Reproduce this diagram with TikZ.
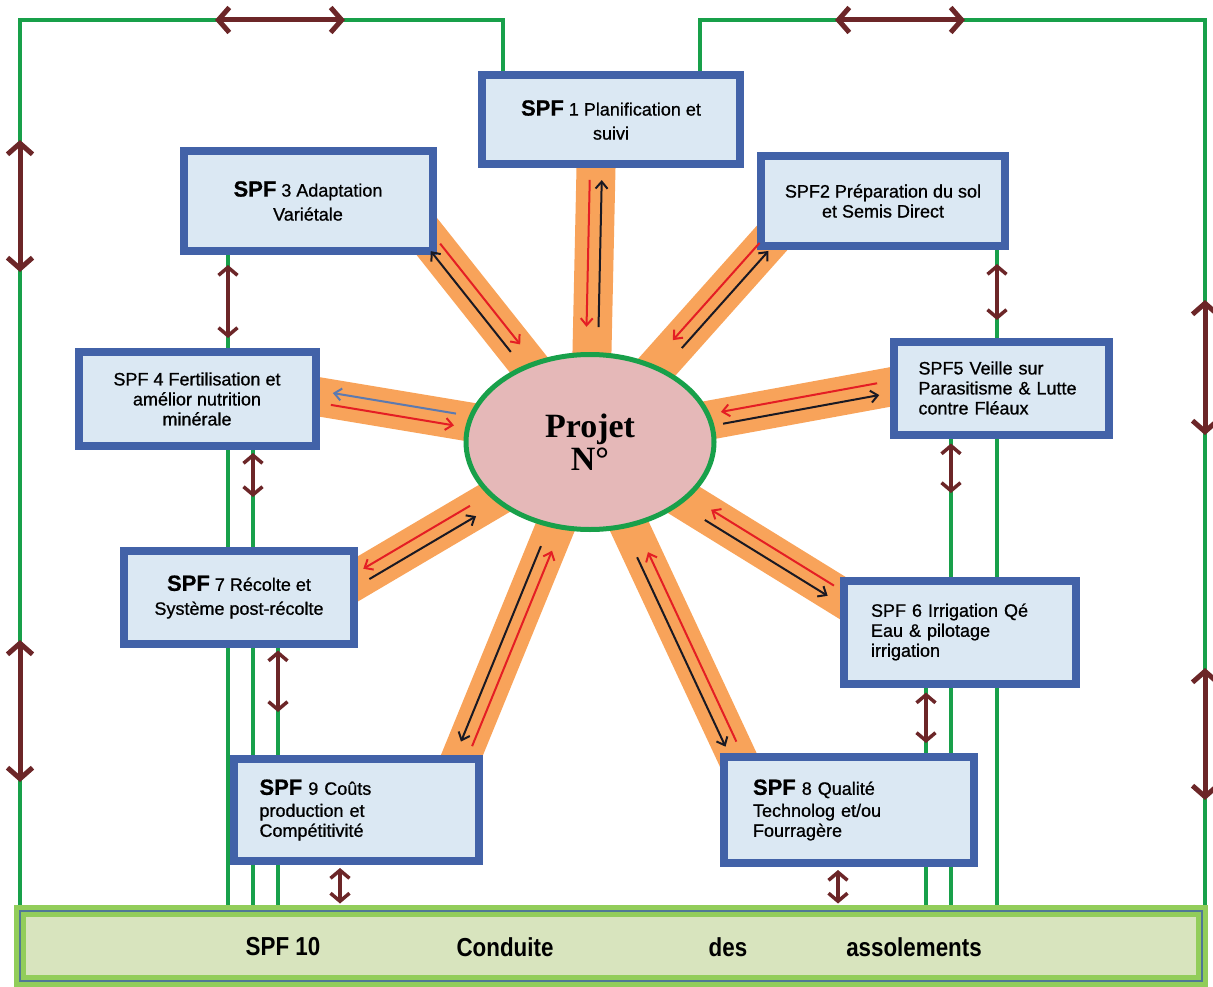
\documentclass[tikz,border=0pt]{standalone}
\usepackage{fontspec}
\setmainfont{Liberation Sans}
\newfontfamily\boxfont[FakeBold=0.8]{Liberation Sans}
\newfontfamily\projfont{Liberation Serif}
\newfontfamily\barfont[FakeStretch=0.86]{Liberation Sans}
\usetikzlibrary{arrows.meta,calc,shapes.geometric}

\definecolor{spfblue}{RGB}{66,98,168}
\definecolor{spffill}{RGB}{219,232,243}
\definecolor{railgreen}{RGB}{24,160,74}
\definecolor{bandorange}{RGB}{248,163,90}
\definecolor{projpink}{RGB}{229,184,184}
\definecolor{linkbrown}{RGB}{108,38,40}
\definecolor{arrred}{RGB}{228,30,36}
\definecolor{arrdark}{RGB}{25,25,35}
\definecolor{arrgrey}{RGB}{92,122,176}
\definecolor{bargreen}{RGB}{146,205,90}
\definecolor{barblue}{RGB}{80,120,150}
\definecolor{barfill}{RGB}{216,228,190}

\newcommand{\bigspf}{{\fontsize{22}{24}\selectfont\bfseries SPF}}

\pgfdeclarelayer{background}
\pgfsetlayers{background,main}

\begin{document}
\begin{tikzpicture}[x=1pt,y=-1pt,
    spf/.style={draw=spfblue, line width=8pt, fill=spffill, inner sep=2pt,
      align=center, font=\boxfont\fontsize{18}{20}\selectfont},
    projet/.style={ellipse, draw=railgreen, line width=5pt, fill=projpink,
      minimum width=248pt, minimum height=175pt, align=center, inner sep=0pt,
      font=\projfont\bfseries\fontsize{34}{33}\selectfont},
    barbox/.style={draw=bargreen, double=barblue, double distance=2pt,
      line width=5pt, fill=barfill, minimum width=1182pt, minimum height=70pt,
      inner sep=0pt},
    barword/.style={font=\barfont\bfseries\fontsize{26}{28}\selectfont},
    rail/.style={draw=railgreen, line width=4.5pt},
    band/.style={draw=bandorange, line width=39pt},
    flow/.style={line width=2pt, -{Straight Barb[length=7pt,width=12pt]}},
    link/.style={draw=linkbrown, line width=3.5pt,
      {Straight Barb[length=8pt,width=19pt]}-{Straight Barb[length=8pt,width=19pt]}},
    biglink/.style={draw=linkbrown, line width=5pt,
      {Straight Barb[length=11pt,width=25pt]}-{Straight Barb[length=11pt,width=25pt]}}]

  \useasboundingbox (0,0) rectangle (1213,987);

  % SPF 10 bar
  \node[barbox] (bar) at (611,946) {};
  \node[barword] (w1) at (283,947) {SPF 10};
  \node[barword] (w2) at (505,947) {Conduite};
  \node[barword] (w3) at (728,947) {des};
  \node[barword] (w4) at (914,947) {assolements};

  % sub-project boxes
  \node[spf, minimum width=258pt, minimum height=89pt] (s1) at (611,120)
    {\bigspf\ 1 Planification et\\[4pt]suivi};
  \node[spf, minimum width=244pt, minimum height=90pt] (s2) at (883,201)
    {SPF2 Préparation du sol\\et Semis Direct};
  \node[spf, minimum width=249pt, minimum height=100pt] (s3) at (308,201)
    {\bigspf\ 3 Adaptation\\[4pt]Variétale};
  \node[spf, minimum width=237pt, minimum height=94pt] (s4) at (197,399)
    {SPF 4 Fertilisation et\\amélior nutrition\\minérale};
  \node[spf, align=left, text width=165pt, inner xsep=25pt, minimum height=93pt] (s5) at (1001,388)
    {SPF5 Veille sur\\Parasitisme \& Lutte\\contre Fléaux};
  \node[spf, align=left, text width=178pt, inner xsep=27pt, minimum height=103pt] (s6) at (960,632)
    {SPF 6 Irrigation Qé\\Eau \& pilotage\\irrigation};
  \node[spf, minimum width=230pt, minimum height=93pt] (s7) at (239,597)
    {\bigspf\ 7 Récolte et\\[4pt]Système post-récolte};
  \node[spf, align=left, text width=192pt, inner xsep=29pt, minimum height=106pt] (s8) at (849,810)
    {\bigspf\ 8 Qualité\\[2pt]Technolog et/ou\\Fourragère};
  \node[spf, align=left, text width=193pt, inner xsep=26pt, minimum height=102pt] (s9) at (356,810)
    {\bigspf\ 9 Coûts\\[2pt]production et\\Compétitivité};

  % central project
  \node[projet] (pj) at (590,442) {Projet\\N°};

  % ray ends at the boxes
  \coordinate (o1) at (596,168);
  \coordinate (o2) at (772,238);
  \coordinate (o3) at (428,238);
  \coordinate (o4) at (320,397);
  \coordinate (o5) at (890,387);
  \coordinate (o6) at (841,597);
  \coordinate (o7) at (356,580);
  \coordinate (o8) at (736,755);
  \coordinate (o9) at (462,755);

  % rail columns and free ends
  \coordinate (xa) at (228,0);
  \coordinate (xb) at (253,0);
  \coordinate (xc) at (278,0);
  \coordinate (xd) at (340,0);
  \coordinate (xe) at (926,0);
  \coordinate (xf) at (951,0);
  \coordinate (xg) at (997,0);
  \coordinate (xh) at (838,0);
  \coordinate (xl) at (20,0);
  \coordinate (xr) at (1205,0);
  \coordinate (xp) at (503,0);
  \coordinate (xq) at (700,0);
  \coordinate (yt) at (0,20);
  \coordinate (kb) at (253,497);
  \coordinate (kc) at (278,712);
  \coordinate (ke) at (997,320);
  \coordinate (kf) at (951,493);
  \coordinate (kg) at (926,743);

  \begin{pgfonlayer}{background}
    % green rails
    \draw[rail] (bar.north -| xl) |- (yt -| xp) -- (s1.north -| xp);
    \draw[rail] (s1.north -| xq) -- (yt -| xq) -| (bar.north -| xr);
    \draw[rail] (s3.south -| xa) -- (bar.north -| xa);
    \draw[rail] (s4.south -| xb) -- (bar.north -| xb);
    \draw[rail] (s7.south -| xc) -- (bar.north -| xc);
    \draw[rail] (s2.south -| xg) -- (bar.north -| xg);
    \draw[rail] (s5.south -| xf) -- (bar.north -| xf);
    \draw[rail] (s6.south -| xe) -- (bar.north -| xe);
    % orange rays
    \foreach \n in {1,...,9}
      \draw[band] (pj.center) -- ($(pj.center)!1.2!(o\n)$);
  \end{pgfonlayer}

  % two-way flows along the rays
  \foreach \n/\cin/\cout/\s/\ns/\frc in {1/arrred/arrdark/-90/90/0.58,
      2/arrred/arrdark/-90/90/0.52, 3/arrred/arrdark/90/-90/0.54,
      4/arrred/arrgrey/-90/90/0.50, 5/arrred/arrdark/-90/90/0.56,
      6/arrred/arrdark/-90/90/0.53, 7/arrdark/arrred/-90/90/0.50,
      8/arrred/arrdark/-90/90/0.64, 9/arrred/arrdark/-90/90/0.66}{
    \coordinate (i\n) at ($(o\n)!\frc!(pj.center)$);
    \draw[flow, draw=\cin, shorten <=12pt] ($(o\n)!6pt!\s:(i\n)$) -- ($(i\n)!6pt!\ns:(o\n)$);
    \draw[flow, draw=\cout, shorten >=12pt] ($(i\n)!6pt!\s:(o\n)$) -- ($(o\n)!6pt!\ns:(i\n)$);
  }

  % brown links between boxes
  \draw[link, shorten <=10pt, shorten >=10pt] (s3.south -| xa) -- (s4.north -| xa);
  \draw[link, shorten <=3pt] (s4.south -| kb) -- (kb);
  \draw[link, shorten <=3pt] (s7.south -| kc) -- (kc);
  \draw[link, shorten <=3pt, shorten >=5pt] (s9.south -| xd) -- (bar.north -| xd);
  \draw[link, shorten <=14pt] (s2.south -| ke) -- (ke);
  \draw[link, shorten <=5pt] (s5.south -| kf) -- (kf);
  \draw[link, shorten <=5pt] (s6.south -| kg) -- (kg);
  \draw[link, shorten <=3pt, shorten >=5pt] (s8.south -| xh) -- (bar.north -| xh);

  % brown links on the outer frame
  \coordinate (ua) at (215,20);
  \coordinate (ub) at (345,20);
  \coordinate (uc) at (835,20);
  \coordinate (ud) at (965,20);
  \coordinate (la) at (20,140);
  \coordinate (lb) at (20,272);
  \coordinate (lc) at (20,640);
  \coordinate (ld) at (20,782);
  \coordinate (ra) at (1205,300);
  \coordinate (rb) at (1205,435);
  \coordinate (rc) at (1205,668);
  \coordinate (rd) at (1205,800);
  \draw[biglink] (ua) -- (ub);
  \draw[biglink] (uc) -- (ud);
  \draw[biglink] (la) -- (lb);
  \draw[biglink] (lc) -- (ld);
  \draw[biglink] (ra) -- (rb);
  \draw[biglink] (rc) -- (rd);
\end{tikzpicture}
\end{document}
